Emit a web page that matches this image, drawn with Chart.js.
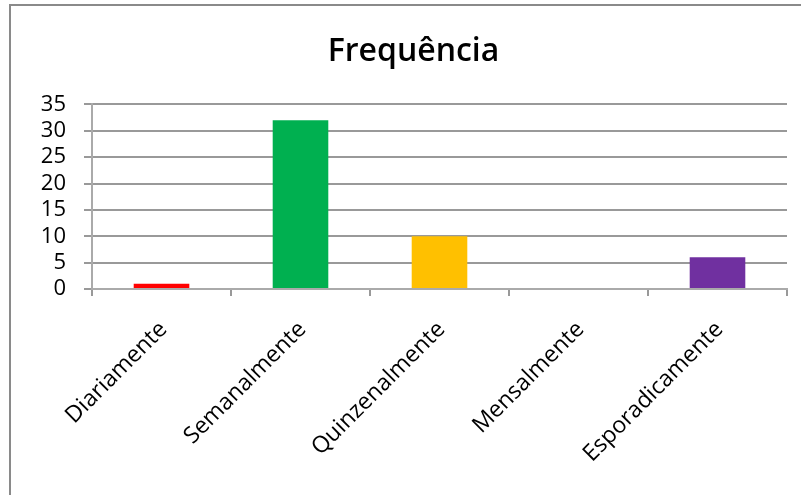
<!DOCTYPE html>
<html>
<head>
<meta charset="utf-8">
<script src="https://cdn.jsdelivr.net/npm/chart.js@4/dist/chart.umd.min.js"></script>
<style>
  html, body { margin: 0; padding: 0; background: #fff; }
  #wrap { position: relative; width: 801px; height: 495px; overflow: hidden; }
  #frame {
    position: absolute; left: 9px; top: 4px; width: 820px; height: 520px;
    border-left: 2px solid #8a8a8a; border-top: 2px solid #8a8a8a;
    pointer-events: none;
  }
  canvas { position: absolute; left: 0; top: 0; }
</style>
</head>
<body>
<div id="wrap">
  <canvas id="chart" width="801" height="495"></canvas>
  <div id="frame"></div>
</div>
<script>
// chart data
const categories = ['Diariamente', 'Semanalmente', 'Quinzenalmente', 'Mensalmente', 'Esporadicamente'];
const values = [1, 32, 10, 0, 6];
const barColors = ['#FF0000', '#00B050', '#FFC000', '#7030A0', '#7030A0'];
const chartTitle = 'Frequência';
const yMax = 35;
const yStep = 5;

const ctx = document.getElementById('chart').getContext('2d');

new Chart(ctx, {
  type: 'bar',
  data: {
    labels: categories,
    datasets: [{
      label: chartTitle,
      data: values,
      backgroundColor: barColors,
      borderWidth: 0,
      categoryPercentage: 0.8,
      barPercentage: 0.5,
    }],
  },
  options: {
    responsive: false,
    animation: false,
    layout: { padding: { left: 40, right: 14, top: 0, bottom: 0 } },
    plugins: {
      legend: { display: false },
      tooltip: { enabled: false },
      title: {
        display: true,
        text: chartTitle,
        color: '#000',
        font: { family: 'Open Sans', size: 32, weight: '600' },
        padding: { top: 33, bottom: 33 },
      },
    },
    scales: {
      x: {
        grid: {
          drawOnChartArea: false,
          drawTicks: true,
          tickLength: 7,
          color: '#999',
          lineWidth: 2,
        },
        border: { color: '#aaa', width: 2 },
        ticks: {
          color: '#000',
          font: { family: 'Open Sans', size: 23 },
          maxRotation: 45,
          minRotation: 45,
          autoSkip: false,
          labelOffset: 2,
          padding: 20,
        },
        afterFit: (s) => { s.height = 206; },
      },
      y: {
        min: 0,
        max: yMax,
        grid: {
          color: '#999',
          lineWidth: 2,
          drawTicks: true,
          tickLength: 8,
        },
        border: { color: '#aaa', width: 2 },
        ticks: {
          stepSize: yStep,
          autoSkip: false,
          color: '#000',
          font: { family: 'Open Sans', size: 22 },
          padding: 18,
        },
        afterFit: (s) => { s.width = 52; },
      },
    },
  },
});
</script>
</body>
</html>
